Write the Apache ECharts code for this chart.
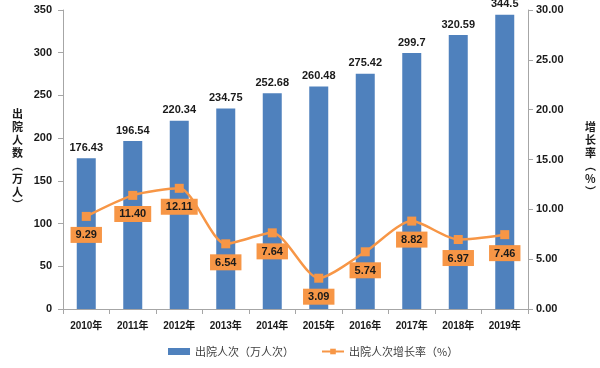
<!DOCTYPE html>
<html>
<head>
<meta charset="utf-8">
<script src="https://cdn.jsdelivr.net/npm/echarts@6/dist/echarts.min.js"></script>
<style>html,body{margin:0;padding:0;background:#fff}#c{width:600px;height:368px}</style>
</head>
<body>
<div id="c"></div>
<script>
const categories = ['2010年','2011年','2012年','2013年','2014年','2015年','2016年','2017年','2018年','2019年'];
const discharges = [176.43,196.54,220.34,234.75,252.68,260.48,275.42,299.7,320.59,344.5];
const growthRate = [9.29,11.40,12.11,6.54,7.64,3.09,5.74,8.82,6.97,7.46];
const barName = '出院人次（万人次）';
const lineName = '出院人次增长率（%）';
const leftAxisName = '出院人数（万人）';
const rightAxisName = '增长率（%）';

const FONT = 'Liberation Sans, Arial, Noto Sans CJK SC, sans-serif';
const vert = s => s.replace('（','︵').replace('）','︶').split('').join('\n');

const chart = echarts.init(document.getElementById('c'));
chart.setOption({
  animation: false,
  textStyle: { fontFamily: FONT },
  grid: { left: 63, right: 72, top: 10, bottom: 59 },
  legend: {
    bottom: 6, left: 163, itemGap: 27, itemWidth: 22, itemHeight: 7,
    textStyle: { fontSize: 11, color: '#404040', fontFamily: 'Noto Sans CJK SC, sans-serif' },
    data: [
      { name: barName, icon: 'rect' },
      { name: lineName }
    ]
  },
  xAxis: {
    type: 'category', data: categories,
    axisLine: { lineStyle: { color: '#a6a6a6', width: 1 } },
    axisTick: { show: true, length: 5, lineStyle: { color: '#a6a6a6' } },
    axisLabel: { color: '#1a1a1a', fontSize: 10, fontWeight: 'bold', margin: 12, fontFamily: FONT }
  },
  yAxis: [
    {
      type: 'value', min: 0, max: 350, interval: 50,
      name: vert(leftAxisName), nameLocation: 'middle', nameGap: 40, nameRotate: 0,
      nameTextStyle: { fontSize: 11, fontWeight: 'bold', color: '#1a1a1a', lineHeight: 13, fontFamily: 'Noto Sans CJK SC, sans-serif' },
      axisLine: { show: true, lineStyle: { color: '#a6a6a6' } },
      axisTick: { show: true, length: 5, lineStyle: { color: '#a6a6a6' } },
      splitLine: { show: false },
      axisLabel: { color: '#1a1a1a', fontSize: 11, fontWeight: 'bold', margin: 11, fontFamily: FONT }
    },
    {
      type: 'value', min: 0, max: 30, interval: 5,
      name: vert(rightAxisName), nameLocation: 'middle', nameGap: 57, nameRotate: 0,
      nameTextStyle: { fontSize: 11, fontWeight: 'bold', color: '#1a1a1a', lineHeight: 13, fontFamily: 'Noto Sans CJK SC, sans-serif' },
      axisLine: { show: true, lineStyle: { color: '#a6a6a6' } },
      axisTick: { show: true, length: 5, lineStyle: { color: '#a6a6a6' } },
      splitLine: { show: false },
      axisLabel: { color: '#1a1a1a', fontSize: 11, fontWeight: 'bold', margin: 8, fontFamily: FONT,
        formatter: v => v.toFixed(2) }
    }
  ],
  series: [
    {
      name: barName, type: 'bar', data: discharges, barWidth: 19,
      itemStyle: { color: '#4f81bd' },
      label: { show: true, position: 'top', distance: 5, color: '#1a1a1a', fontSize: 11, fontWeight: 'bold', fontFamily: FONT }
    },
    {
      name: lineName, type: 'line', yAxisIndex: 1, data: growthRate,
      smooth: 0.25, symbol: 'rect', symbolSize: 9,
      lineStyle: { color: '#f79646', width: 2.5 },
      itemStyle: { color: '#f79646' },
      label: {
        show: true, position: 'bottom', distance: 6,
        formatter: p => p.value.toFixed(2),
        color: '#1a1a1a', fontSize: 11, fontWeight: 'bold', fontFamily: FONT,
        backgroundColor: '#f79646', padding: [3, 5, 2, 5]
      }
    }
  ]
});
</script>
</body>
</html>
